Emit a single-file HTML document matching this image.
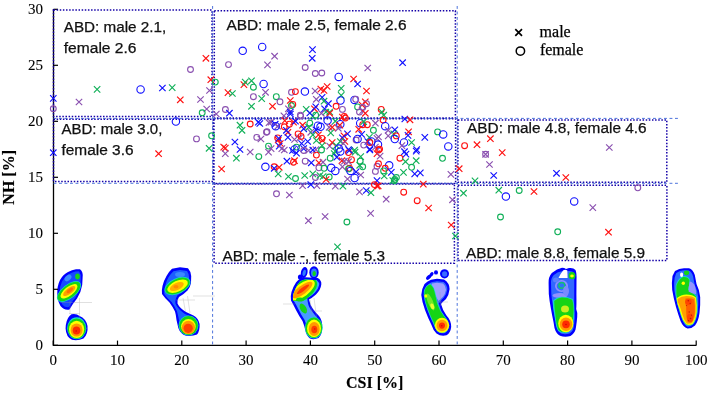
<!DOCTYPE html>
<html><head><meta charset="utf-8"><style>
html,body{margin:0;padding:0;background:#fff;}
svg{display:block;will-change:transform;}
.tk{font-family:"Liberation Serif",serif;font-size:15px;fill:#000;stroke:#000;stroke-width:0.1px;}
.ttl{font-family:"Liberation Serif",serif;font-size:16px;font-weight:bold;fill:#000;stroke:#000;stroke-width:0.15px;}
.lb{font-family:"Liberation Sans",sans-serif;font-size:14px;fill:#111;stroke:#111;stroke-width:0.25px;}
.lg{font-family:"Liberation Serif",serif;font-size:16px;fill:#000;stroke:#000;stroke-width:0.25px;}
</style></head><body>
<svg width="707" height="393" viewBox="0 0 707 393">
<defs><filter id="bl" x="-20%" y="-20%" width="140%" height="140%"><feGaussianBlur stdDeviation="0.55"/></filter></defs>
<g filter="url(#bl)">
<!-- foot 1 forefoot -->
<path fill="#0000ff" d="M76 269.3 L80 269.3 Q83.5 272 82.6 278 L82.2 285 Q81.2 292 77 298.5 Q72.5 304 69.5 309.5 Q64 310.5 60.5 306 Q57.5 301 57.3 294 Q57 286 60 280 Q63 274.5 68 272 Q72 270 76 269.3 Z"/>
<path fill="#1848ff" d="M75.5 271.5 L79 271.3 Q81.2 274 80.8 279 L80.4 285 Q79.5 291.5 75.5 297.5 Q71.5 302.5 68.8 307 Q64.8 307.8 62.3 304.5 Q59.6 300 59.5 294 Q59.3 287 62 281.5 Q64.8 276.3 69 274 Q72.5 272 75.5 271.5 Z"/>
<ellipse fill="#3a8cff" cx="68" cy="278" rx="4" ry="2.5" transform="rotate(-40 68 278)"/>
<ellipse fill="#16d8c8" cx="69" cy="291.5" rx="14.3" ry="7" transform="rotate(-38 69 291.5)"/>
<ellipse fill="#14d414" cx="69" cy="291.5" rx="13.6" ry="6.4" transform="rotate(-38 69 291.5)"/>
<ellipse fill="#ffff00" cx="69" cy="291.3" rx="10.2" ry="4.4" transform="rotate(-38 69 291.3)"/>
<ellipse fill="#ffa000" cx="69.2" cy="291" rx="7.4" ry="2.9" transform="rotate(-38 69.2 291)"/><ellipse fill="#ff7000" cx="69.8" cy="290.4" rx="3.8" ry="1.6" transform="rotate(-38 69.8 290.4)"/>
<ellipse fill="#14d414" cx="77.5" cy="276.5" rx="2.3" ry="3"/>
<!-- foot 1 heel -->
<path fill="#0000ff" d="M71.5 314.2 Q76.5 313.3 79.5 316 Q86 318.5 87.5 326 Q88.3 334 83.5 338.5 Q78 341 72 339.8 Q66 337 65.6 328.5 Q65.8 320 69.5 316 Z"/>
<ellipse fill="#16d8c8" cx="76.7" cy="328.2" rx="9.6" ry="11"/>
<ellipse fill="#14d414" cx="76.7" cy="328.6" rx="9" ry="10.2"/>
<ellipse fill="#ffff00" cx="76.6" cy="329.3" rx="7.6" ry="8.6"/>
<ellipse fill="#ff9a00" cx="76.6" cy="330" rx="6" ry="6.6"/>
<ellipse fill="#ff2a00" cx="76.5" cy="330.6" rx="3.8" ry="4"/>
<!-- foot 2 -->
<path fill="#0000ff" d="M172 268.8 L180 267.3 L188 268.2 Q191.3 272 191.2 276 L191 283 Q190 288 187.5 290.5 Q183 295 179 297 Q176.8 300 177.5 303.5 Q179.5 308 186 312 L193.5 315.4 Q198.5 318 199.6 324 Q200 331 197 334.5 Q193 336.3 186 335.8 Q180.5 334 178.3 328 L176.5 320 Q176 315 175 311.5 Q172.5 306.5 169.5 302.5 Q165 298.5 162 294 Q161.5 290 162.5 286 Q164 280 166.5 276 Q169 271.5 172 268.8 Z"/>
<path fill="#1f5fff" d="M173.5 271.3 L180 270 L187 271 Q189 274 189 277 L188.8 283 Q188 287 185.8 289 Q181.5 293 177.5 295.2 Q174.8 299 175.5 303.8 Q177.8 309 184.5 313.8 L191.5 317 Q197 320 197.5 325 Q197.5 330.5 195 333 Q191.5 334 186.5 333.5 Q182 332 180.5 327 L179 320 Q178 315 177 311.3 Q174.5 306 171.5 302 Q167 298 164.3 294 Q164 290 165 286.5 Q166.3 281 168.5 277.3 Q171 273.5 173.5 271.3 Z"/>
<ellipse fill="#16d8c8" cx="177.5" cy="286" rx="13.8" ry="7.8" transform="rotate(-25 177.5 286)"/>
<ellipse fill="#14d414" cx="177.5" cy="286" rx="13" ry="7" transform="rotate(-25 177.5 286)"/>
<ellipse fill="#ffff00" cx="177.6" cy="286.2" rx="11" ry="5.4" transform="rotate(-25 177.6 286.2)"/>
<ellipse fill="#ffb000" cx="176.8" cy="286.5" rx="7.5" ry="3.5" transform="rotate(-25 176.8 286.5)"/><ellipse fill="#ff8a00" cx="176" cy="286.8" rx="2.5" ry="1.8"/>
<ellipse fill="#3a8aff" cx="180" cy="274.5" rx="5" ry="2.5"/>
<ellipse fill="#16d8c8" cx="188.5" cy="325.5" rx="9.9" ry="10"/>
<ellipse fill="#14d414" cx="188.5" cy="325.6" rx="9.3" ry="9.5"/>
<ellipse fill="#ffff00" cx="188.4" cy="326.5" rx="7.3" ry="7.5"/>
<ellipse fill="#ff9a00" cx="188.4" cy="327.5" rx="6.6" ry="6.8"/>
<ellipse fill="#ff4000" cx="188.2" cy="328.3" rx="4.6" ry="4.6"/>
<!-- foot 3 -->
<ellipse fill="#0000ff" cx="304.2" cy="272.5" rx="3.3" ry="5.6" transform="rotate(12 304.2 272.5)"/>
<ellipse fill="#2f7bff" cx="304.2" cy="272.8" rx="1.6" ry="3.2" transform="rotate(12 304.2 272.8)"/>
<ellipse fill="#0000ff" cx="300.3" cy="277" rx="2.4" ry="2.6"/>
<ellipse fill="#0000ff" cx="314" cy="272.5" rx="4.7" ry="6.2"/>
<ellipse fill="#2f7bff" cx="314" cy="272.8" rx="3" ry="4.3"/>
<ellipse fill="#14d414" cx="314.2" cy="273.5" rx="1.7" ry="2.6"/>
<path fill="#0000ff" d="M299 279.5 Q303 277 305 277.2 L317.8 278 Q321.8 280.5 321.3 284.5 Q320.8 289.5 316 294.5 Q312 298 309 299.5 Q310 305 313 309 Q316 313 319 316 Q322.5 320 322.3 328 Q322 335 318.5 338 Q314 340 310 338.5 Q306.5 336 305.5 331 Q304.5 326 302.5 321 Q299 316 296.5 311 Q293.5 305 291 300.5 Q290.3 296 291.5 292 Q293.5 286 296 282.5 Q297.5 280.5 299 279.5 Z"/>
<path fill="#4a9aff" d="M300 281.5 Q303.5 279.5 305.5 279.5 L316.8 280.3 Q319.5 282.5 319.2 285 Q318.5 289 314.5 293 Q310.5 296.5 307.3 298 Q307.5 305 311 310 Q314 314 317 317.5 Q320.3 321 320.2 328 Q319.8 333.5 317 336 Q314 337.8 311 336.6 Q308.3 334.5 307.6 330 Q306.8 325 304.6 320 Q301.3 315 298.8 310 Q295.8 304 293.3 300 Q292.7 296 293.8 293 Q295.6 288 297.7 284.5 Z"/>
<clipPath id="f3c"><path d="M300 281.5 Q303.5 279.5 305.5 279.5 L316.8 280.3 Q319.5 282.5 319.2 285 Q318.5 289 314.5 293 Q310.5 296.5 307.3 298 L306 301 L293 301 Q292.7 296 293.8 293 Q295.6 288 297.7 284.5 Z"/></clipPath>
<g clip-path="url(#f3c)">
<ellipse fill="#16d8c8" cx="302.8" cy="290" rx="17" ry="10" transform="rotate(-37 302.8 290)"/>
<ellipse fill="#14d414" cx="302.8" cy="290" rx="16.3" ry="9.3" transform="rotate(-37 302.8 290)"/>
<ellipse fill="#ffff00" cx="302.5" cy="290" rx="14.5" ry="6.6" transform="rotate(-37 302.5 290)"/>
<ellipse fill="#ff9a00" cx="302.3" cy="290" rx="12.3" ry="4.3" transform="rotate(-37 302.3 290)"/>
<ellipse fill="#ff3800" cx="303" cy="289.3" rx="7.5" ry="1.8" transform="rotate(-37 303 289.3)"/>
</g>
<ellipse fill="#14d414" cx="300" cy="299.5" rx="4" ry="2"/>
<ellipse fill="#14d414" cx="303.3" cy="308.5" rx="3" ry="5.4" transform="rotate(-30 303.3 308.5)"/>
<ellipse fill="#16d8c8" cx="313.8" cy="327.8" rx="8.8" ry="10.8"/>
<ellipse fill="#14d414" cx="313.8" cy="327.8" rx="8.3" ry="10.3"/>
<ellipse fill="#ffff00" cx="314" cy="328.4" rx="7" ry="8.8"/>
<ellipse fill="#ff9a00" cx="314.2" cy="329" rx="5.5" ry="7"/>
<ellipse fill="#ff3a00" cx="314.3" cy="329.5" rx="3" ry="3.8"/>
<!-- foot 4 -->
<ellipse fill="#0000ff" cx="428.6" cy="277.3" rx="1.8" ry="3" transform="rotate(45 428.6 277.3)"/>
<ellipse fill="#0000ff" cx="431.5" cy="274.4" rx="1.6" ry="2.6" transform="rotate(40 431.5 274.4)"/>
<ellipse fill="#0000ff" cx="436" cy="272.4" rx="2" ry="2.2"/>
<ellipse fill="#0000ff" cx="444.5" cy="273.8" rx="4.5" ry="4.6"/>
<ellipse fill="#3a6cff" cx="444.6" cy="274" rx="2.6" ry="2.8"/>
<path fill="#0000ff" d="M431 279.8 L437 278.8 L444 279.6 Q449.5 283 449.6 289 Q449 295 446 299 Q442.5 302 441 304 Q442.5 310 446.5 315.5 Q451.3 320.5 451.2 327 Q450.5 333 446.5 335.3 Q441 336.8 436.5 333.5 Q433 330 431.5 325 Q428 318 425 310 Q422 302 421.3 295 Q421.5 289 424.5 284 Q427.5 281 431 279.8 Z"/>
<path fill="#3a6cff" d="M431.5 282.3 L437 281.3 L443.5 282 Q447.3 285 447.3 289.5 Q446.5 294.5 443.8 297.5 Q440.5 300.5 438.8 303.5 Q440.5 311 444.5 316.5 Q449 321.5 448.8 327 Q448 331.5 445 333 Q441 334.2 437.5 331.5 Q434.8 328.5 433.5 324 Q430 317 427.3 309.5 Q424.5 301.5 423.8 295 Q424 290 426.5 286 Q429 283.5 431.5 282.3 Z"/>
<path fill="#a0a0ff" d="M432 283.5 L437 282.8 L443 283.5 Q446 286 446 289.8 Q445.3 294 443 296.8 Q440.3 299.3 438.5 301 L435.5 296 L431 289 Z"/>
<path fill="#16d8c8" d="M423.8 291.5 Q425.5 285 430.5 283.8 Q434 286.5 435.2 292 Q436.7 298 438 304 Q440.2 311 444.7 316.3 Q449 321 448.5 327 Q447.7 331.5 444.3 332.7 Q440 333.7 437 331 Q434.5 327.5 433.3 323.3 Q429.8 316 427.3 309 Q424.3 301 423.8 295 Z"/>
<path fill="#14d414" d="M424.5 291.5 Q426 285.5 430.5 284.5 Q433.5 287 434.5 292 Q436 298 437.3 304 Q439.5 311 444 316.5 Q448.2 321 447.8 327 Q447 331 444 332 Q440 333 437.5 330.5 Q435 327 434 323 Q430.5 316 428 309 Q425 301 424.5 295 Z"/>

<ellipse fill="#6fe828" cx="430.5" cy="302" rx="2.6" ry="9" transform="rotate(-22 430.5 302)"/><ellipse fill="#ffff00" cx="425.8" cy="296" rx="1.5" ry="1.7"/><ellipse fill="#e8ff30" cx="432.3" cy="306.4" rx="1.8" ry="3" transform="rotate(-20 432.3 306.4)"/><ellipse fill="#ffff00" cx="442" cy="325.3" rx="7.2" ry="7.5"/>
<ellipse fill="#ff9a00" cx="442" cy="325.5" rx="5.5" ry="5.8"/>
<ellipse fill="#ff2a00" cx="442" cy="325.6" rx="3" ry="3.1"/>
<!-- foot 5 -->
<path fill="#0000ff" d="M548.6 283 Q548.3 277 551.8 273 L557 269.5 L562 267.8 Q564.5 267.8 566 269 L569 268 Q573.5 267.5 575.5 270 Q576.8 273 576.5 280 L576.4 295 Q576.6 305 576.2 309 Q577.6 312 577.2 317 Q576.8 322 576 327 Q575.5 333 570.5 336 Q565 337.5 560 335.8 Q556 333.5 554.5 328 L553.5 322 Q552 315 550.8 308 Q549.3 300 548.8 294 Z"/>
<path fill="#3068ff" d="M551 283 Q550.8 278 553.8 275 L558 272.3 L563 271 Q566 271.5 568 271 Q572.5 270.5 573.8 272.5 Q574.5 276 574.3 281 L574.2 295 Q574.4 305 574 310 Q575 313 574.8 317 Q574.5 322 573.8 327 Q573 331.5 569.5 333.5 Q565 335 561 333.5 Q557.8 331.5 556.8 327 L555.8 321 Q554.3 314 553.2 307.5 Q551.8 300 551.3 294 Z"/>
<ellipse fill="#9090ff" cx="561.5" cy="286" rx="6.5" ry="6"/>
<ellipse fill="#2f6fff" cx="561.5" cy="286" rx="4.8" ry="4.4"/>
<ellipse fill="none" stroke="#14c864" stroke-width="1.3" cx="561.8" cy="285.4" rx="3" ry="2.8"/>
<ellipse fill="#9090ff" cx="560" cy="295.5" rx="7.5" ry="2.4"/><ellipse fill="#5a80ff" cx="556" cy="280" rx="3" ry="2.5"/>
<ellipse fill="#7a8aff" cx="566" cy="291" rx="3" ry="5"/>
<ellipse fill="#14d414" cx="572" cy="275.7" rx="3.4" ry="3.6"/>
<ellipse fill="#ffff00" cx="572" cy="276" rx="1.8" ry="1.4"/>
<path fill="#16d8c8" d="M553 300.5 Q557 297 562 296.8 Q568 296.8 572.8 299 Q574.6 304 574.4 310 Q574.2 318 572.9 325 Q571.3 331.5 566.5 333 Q561.3 333.5 558.2 331 Q556 327.5 555.3 321 Q554 313 553 307 Z"/>
<path fill="#14d414" d="M554.2 301 Q557.5 297.8 562 297.6 Q568 297.6 572.2 299.7 Q573.8 304 573.6 310 Q573.4 318 572.1 325 Q570.6 330.8 566.3 332.2 Q561.5 332.7 558.7 330.3 Q556.8 327 556.2 321 Q555.2 313 554.5 307 Z"/>
<ellipse fill="#c8f020" cx="565" cy="309" rx="4" ry="3.5"/><ellipse fill="#ffff00" cx="565.8" cy="323.5" rx="7.6" ry="8.8"/>
<ellipse fill="#ff9a00" cx="566" cy="324.3" rx="6.2" ry="6.8"/>
<ellipse fill="#ff2a00" cx="566" cy="324.3" rx="3.8" ry="3.9"/>
<!-- foot 6 -->
<path fill="#0000ff" d="M675 271 Q679 268.5 684 268.2 L689 268.3 Q693 269.5 694.8 275 L696.5 284 Q699.5 290 700.2 297 Q700.5 305 699.5 313 Q698.5 321 695 325.5 Q691.5 328.8 687.5 328.6 Q683 327 680.5 321 Q678 314 676 307 Q673.5 298 672.2 290 Q671.5 282 672.5 276 Z"/>
<path fill="#2f6fff" d="M676.3 273 Q680 270.5 684 270.3 L688.7 270.5 Q691.8 271.8 693.1 276.5 L694.7 284.8 Q697.6 290.8 698.3 297.3 Q698.6 305 697.6 312.7 Q696.6 319.9 693.5 324 Q690.8 326.8 687.8 326.7 Q684.2 325.2 682.2 319.8 Q679.9 313 677.9 306 Q675.5 297.5 674.3 290 Q673.7 283 674.7 277.5 Z"/>
<path fill="#16d8c8" d="M675.6 286 Q677.5 278.5 683 276 Q688.5 275.5 690.2 280 Q690.5 285 689 289.5 Q693.5 292.5 696.6 296 Q698 304 697.4 312 Q696.2 320.5 692.9 324.6 Q689.4 326.3 686.3 325.3 Q682.8 322 681 316 Q678.5 308.5 676.7 301 Q675 293.5 675.6 286 Z"/>
<path fill="#14d414" d="M676.4 286 Q678.3 279.3 683.2 277 Q688 276.6 689.4 280.3 Q689.7 285 688.1 289.8 Q692.8 292.8 695.8 296.2 Q697.2 304 696.6 312 Q695.4 320 692.3 323.9 Q689.2 325.4 686.5 324.5 Q683.5 321.5 681.8 315.7 Q679.3 308.3 677.5 301 Q675.8 293.8 676.4 286 Z"/>
<path fill="#9494ff" d="M689.8 281.5 Q693.3 282 694.9 286 Q696.4 290.5 696.1 294.2 Q691.8 293.8 688.6 291.6 Q688.2 287 689.8 281.5 Z"/>
<ellipse fill="#14d414" cx="686.5" cy="272.8" rx="2.6" ry="2.4"/>
<ellipse fill="#ffff00" cx="683.3" cy="283.3" rx="1.7" ry="1.7"/>
<path fill="#ffff00" d="M676.6 298.3 Q680.8 294.8 686.5 294.5 Q692.8 294.6 695.9 297.4 Q697.2 305 696.7 312 Q695.8 320 692.6 324 Q689.2 325.7 686.1 324.3 Q682.6 320.8 681.2 315 Q679.6 309 677.6 304.3 Z"/>
<path fill="#ffa000" d="M677.6 299 Q681.6 296.2 686.5 296 Q692.2 296.1 695 298.3 Q696.1 305 695.7 312 Q695 319.2 692 323 Q689 324.5 686.6 323.2 Q683.6 319.8 682.4 314.5 Q681 309 679.2 305 Q677.4 302 677.6 299 Z"/>
<path fill="#ff6000" d="M685.5 298.5 Q690.5 297.5 694.2 299.5 Q695.2 306 694.8 312.5 Q694.2 318.8 691.5 322 Q689 323.2 687.6 321.8 Q686 318 686.2 312 Q686.5 306 685 302 Z"/>
<ellipse fill="#ff4400" cx="688.5" cy="302" rx="3.2" ry="3"/>
<ellipse fill="#ff4400" cx="690" cy="318" rx="3" ry="4.2"/>
<ellipse fill="#ffffff" cx="681.6" cy="274.8" rx="1.6" ry="2.2"/>
</g>
<g stroke="#999" stroke-width="0.5" fill="none" opacity="0.6">
<path d="M70 301V314M79.5 298V318M60 302.5H92M69 313.5H80"/>
<path d="M183 298L185.5 312M187.5 296L190 313M176 300H195M193 296H215"/>
<path d="M310 300L312 314M314 298L316.5 317M305 311H322M283 304H295"/>
<path d="M440 292L441 306M436 302H448"/>
</g>
<g fill="#b00000" opacity="0.7">
<circle cx="688.3" cy="300.8" r="0.8"/><circle cx="690.2" cy="303.5" r="0.7"/><circle cx="686.6" cy="305.5" r="0.6"/>
<circle cx="689.2" cy="312" r="0.7"/><circle cx="690.5" cy="318.5" r="0.8"/><circle cx="688.6" cy="320.6" r="0.7"/><circle cx="691.5" cy="315.2" r="0.6"/>
<circle cx="76.2" cy="331" r="0.8"/><circle cx="314.8" cy="329" r="0.7"/><circle cx="441.8" cy="325.8" r="0.8"/><circle cx="566" cy="324.5" r="0.8"/>
</g>
<!-- foot 5 white notch -->
<path fill="#ffffff" d="M558.5 278 L567.6 278 L567.3 270.6 Q565.5 269 563.3 270.3 Q560.3 274 558.5 278 Z" filter="url(#bl)"/>

<path d="M53.5 9 V345.4 H696.3" fill="none" stroke="#000" stroke-width="1.3"/>
<path d="M53.5 345.3H58" stroke="#000" stroke-width="1.2"/>
<text x="43" y="350.3" text-anchor="end" class="tk">0</text>
<path d="M53.5 289.3H58" stroke="#000" stroke-width="1.2"/>
<text x="43" y="294.3" text-anchor="end" class="tk">5</text>
<path d="M53.5 233.3H58" stroke="#000" stroke-width="1.2"/>
<text x="43" y="238.3" text-anchor="end" class="tk">10</text>
<path d="M53.5 177.3H58" stroke="#000" stroke-width="1.2"/>
<text x="43" y="182.3" text-anchor="end" class="tk">15</text>
<path d="M53.5 121.3H58" stroke="#000" stroke-width="1.2"/>
<text x="43" y="126.3" text-anchor="end" class="tk">20</text>
<path d="M53.5 65.3H58" stroke="#000" stroke-width="1.2"/>
<text x="43" y="70.3" text-anchor="end" class="tk">25</text>
<path d="M53.5 9.3H58" stroke="#000" stroke-width="1.2"/>
<text x="43" y="14.3" text-anchor="end" class="tk">30</text>
<path d="M53.2 345.4V340.6" stroke="#000" stroke-width="1.2"/>
<text x="53.2" y="364.8" text-anchor="middle" class="tk">0</text>
<path d="M117.5 345.4V340.6" stroke="#000" stroke-width="1.2"/>
<text x="117.5" y="364.8" text-anchor="middle" class="tk">10</text>
<path d="M181.8 345.4V340.6" stroke="#000" stroke-width="1.2"/>
<text x="181.8" y="364.8" text-anchor="middle" class="tk">20</text>
<path d="M246.1 345.4V340.6" stroke="#000" stroke-width="1.2"/>
<text x="246.1" y="364.8" text-anchor="middle" class="tk">30</text>
<path d="M310.4 345.4V340.6" stroke="#000" stroke-width="1.2"/>
<text x="310.4" y="364.8" text-anchor="middle" class="tk">40</text>
<path d="M374.7 345.4V340.6" stroke="#000" stroke-width="1.2"/>
<text x="374.7" y="364.8" text-anchor="middle" class="tk">50</text>
<path d="M439.0 345.4V340.6" stroke="#000" stroke-width="1.2"/>
<text x="439.0" y="364.8" text-anchor="middle" class="tk">60</text>
<path d="M503.3 345.4V340.6" stroke="#000" stroke-width="1.2"/>
<text x="503.3" y="364.8" text-anchor="middle" class="tk">70</text>
<path d="M567.6 345.4V340.6" stroke="#000" stroke-width="1.2"/>
<text x="567.6" y="364.8" text-anchor="middle" class="tk">80</text>
<path d="M631.9 345.4V340.6" stroke="#000" stroke-width="1.2"/>
<text x="631.9" y="364.8" text-anchor="middle" class="tk">90</text>
<path d="M696.2 345.4V340.6" stroke="#000" stroke-width="1.2"/>
<text x="696.2" y="364.8" text-anchor="middle" class="tk">100</text>
<text transform="translate(14.3 177.3) rotate(-90)" text-anchor="middle" class="ttl">NH [%]</text>
<text x="374.7" y="388.2" text-anchor="middle" class="ttl">CSI [%]</text>
<rect x="53.5" y="10.1" width="158.5" height="106.5" stroke="#1400a8" stroke-width="1.5" stroke-dasharray="1.5 1.63" fill="none"/>
<rect x="214.3" y="10.8" width="241.1" height="107.2" stroke="#1400a8" stroke-width="1.5" stroke-dasharray="1.5 1.63" fill="none"/>
<rect x="53.5" y="119.2" width="159.7" height="62.3" stroke="#1400a8" stroke-width="1.5" stroke-dasharray="1.5 1.63" fill="none"/>
<rect x="214" y="118.8" width="241.6" height="64.6" stroke="#1400a8" stroke-width="1.5" stroke-dasharray="1.5 1.63" fill="none"/>
<rect x="457.9" y="120" width="208.9" height="62.3" stroke="#1400a8" stroke-width="1.5" stroke-dasharray="1.5 1.63" fill="none"/>
<rect x="214.1" y="184" width="240.3" height="79.2" stroke="#1400a8" stroke-width="1.5" stroke-dasharray="1.5 1.63" fill="none"/>
<rect x="458" y="185.3" width="208.9" height="75.3" stroke="#1400a8" stroke-width="1.5" stroke-dasharray="1.5 1.63" fill="none"/>
<path d="M212.6 6V345" stroke="#3a64d8" stroke-width="0.9" stroke-dasharray="2.9 2.6" fill="none"/>
<path d="M457.2 6V345" stroke="#3a64d8" stroke-width="0.9" stroke-dasharray="2.9 2.6" fill="none"/>
<path d="M53.5 118.4H678" stroke="#3a64d8" stroke-width="0.9" stroke-dasharray="2.9 2.6" fill="none"/>
<path d="M53.5 183.3H678" stroke="#3a64d8" stroke-width="0.9" stroke-dasharray="2.9 2.6" fill="none"/>
<g fill="none" stroke-width="1.15">
<path d="M50.1 95.2L56.5 101.6M50.1 101.6L56.5 95.2" stroke="#1010ff"/>
<circle cx="53.3" cy="108.8" r="2.9" stroke="#8a50b0" stroke-width="1.1"/>
<path d="M75.8 98.8L82.2 105.2M75.8 105.2L82.2 98.8" stroke="#8a50b0"/>
<path d="M93.9 86.2L100.3 92.6M93.9 92.6L100.3 86.2" stroke="#10b058"/>
<circle cx="140.6" cy="89.4" r="3.7" stroke="#1010ff" stroke-width="1.1"/>
<path d="M159.2 84.8L165.6 91.2M159.2 91.2L165.6 84.8" stroke="#1010ff"/>
<path d="M169.0 84.4L175.4 90.8M169.0 90.8L175.4 84.4" stroke="#10b058"/>
<path d="M177.1 96.6L183.5 103.0M177.1 103.0L183.5 96.6" stroke="#ff1010"/>
<circle cx="190.5" cy="69.5" r="2.9" stroke="#8a50b0" stroke-width="1.1"/>
<path d="M202.7 55.1L209.1 61.5M202.7 61.5L209.1 55.1" stroke="#ff1010"/>
<path d="M207.6 76.5L214.0 82.9M207.6 82.9L214.0 76.5" stroke="#ff1010"/>
<path d="M197.3 96.3L203.7 102.7M197.3 102.7L203.7 96.3" stroke="#8a50b0"/>
<path d="M206.3 87.3L212.7 93.7M206.3 93.7L212.7 87.3" stroke="#8a50b0"/>
<path d="M203.5 105.8L209.9 112.2M203.5 112.2L209.9 105.8" stroke="#8a50b0"/>
<circle cx="202.2" cy="112.8" r="2.9" stroke="#10b058" stroke-width="1.1"/>
<circle cx="215.3" cy="82.1" r="2.9" stroke="#10b058" stroke-width="1.1"/>
<path d="M213.1 110.8L219.5 117.2M213.1 117.2L219.5 110.8" stroke="#8a50b0"/>
<circle cx="228.5" cy="64.6" r="2.9" stroke="#8a50b0" stroke-width="1.1"/>
<path d="M224.8 89.4L231.2 95.8M224.8 95.8L231.2 89.4" stroke="#ff1010"/>
<path d="M229.2 90.3L235.6 96.7M229.2 96.7L235.6 90.3" stroke="#10b058"/>
<circle cx="225.4" cy="109.5" r="2.9" stroke="#8a50b0" stroke-width="1.1"/>
<path d="M226.2 110.0L232.6 116.4M226.2 116.4L232.6 110.0" stroke="#1010ff"/>
<circle cx="175.9" cy="121.5" r="3.7" stroke="#1010ff" stroke-width="1.1"/>
<circle cx="196.5" cy="138.9" r="2.9" stroke="#8a50b0" stroke-width="1.1"/>
<circle cx="211.6" cy="135.8" r="2.9" stroke="#10b058" stroke-width="1.1"/>
<path d="M205.9 145.1L212.3 151.5M205.9 151.5L212.3 145.1" stroke="#10b058"/>
<path d="M155.4 150.5L161.8 156.9M155.4 156.9L161.8 150.5" stroke="#ff1010"/>
<path d="M50.1 149.5L56.5 155.9M50.1 155.9L56.5 149.5" stroke="#1010ff"/>
<circle cx="242.7" cy="50.8" r="3.7" stroke="#1010ff" stroke-width="1.1"/>
<circle cx="262.2" cy="47.0" r="3.7" stroke="#1010ff" stroke-width="1.1"/>
<path d="M271.4 53.0L277.8 59.4M271.4 59.4L277.8 53.0" stroke="#8a50b0"/>
<path d="M264.3 61.7L270.7 68.1M264.3 68.1L270.7 61.7" stroke="#8a50b0"/>
<path d="M309.3 46.4L315.7 52.8M309.3 52.8L315.7 46.4" stroke="#1010ff"/>
<path d="M309.0 55.1L315.4 61.5M309.0 61.5L315.4 55.1" stroke="#1010ff"/>
<circle cx="305.2" cy="67.5" r="2.9" stroke="#8a50b0" stroke-width="1.1"/>
<circle cx="315.3" cy="73.5" r="2.9" stroke="#8a50b0" stroke-width="1.1"/>
<circle cx="321.8" cy="73.0" r="2.9" stroke="#8a50b0" stroke-width="1.1"/>
<path d="M364.5 64.8L370.9 71.2M364.5 71.2L370.9 64.8" stroke="#8a50b0"/>
<path d="M399.4 59.5L405.8 65.9M399.4 65.9L405.8 59.5" stroke="#1010ff"/>
<circle cx="338.7" cy="76.9" r="3.7" stroke="#1010ff" stroke-width="1.1"/>
<path d="M350.4 75.8L356.8 82.2M350.4 82.2L356.8 75.8" stroke="#ff1010"/>
<path d="M354.4 80.8L360.8 87.2M354.4 87.2L360.8 80.8" stroke="#1010ff"/>
<path d="M363.3 87.8L369.7 94.2M363.3 94.2L369.7 87.8" stroke="#ff1010"/>
<path d="M240.7 81.4L247.1 87.8M240.7 87.8L247.1 81.4" stroke="#ff1010"/>
<path d="M242.0 78.9L248.4 85.3M242.0 85.3L248.4 78.9" stroke="#10b058"/>
<path d="M248.3 77.6L254.7 84.0M248.3 84.0L254.7 77.6" stroke="#10b058"/>
<circle cx="253.4" cy="87.2" r="2.9" stroke="#10b058" stroke-width="1.1"/>
<circle cx="263.6" cy="84.0" r="3.7" stroke="#1010ff" stroke-width="1.1"/>
<path d="M262.3 89.1L268.7 95.5M262.3 95.5L268.7 89.1" stroke="#8a50b0"/>
<circle cx="253.4" cy="96.7" r="2.9" stroke="#8a50b0" stroke-width="1.1"/>
<path d="M258.5 95.4L264.9 101.8M258.5 101.8L264.9 95.4" stroke="#10b058"/>
<path d="M248.3 103.1L254.7 109.5M248.3 109.5L254.7 103.1" stroke="#10b058"/>
<circle cx="276.3" cy="96.7" r="2.9" stroke="#10b058" stroke-width="1.1"/>
<circle cx="280.0" cy="101.8" r="2.9" stroke="#8a50b0" stroke-width="1.1"/>
<path d="M269.3 103.1L275.7 109.5M269.3 109.5L275.7 103.1" stroke="#ff1010"/>
<circle cx="291.5" cy="92.3" r="2.9" stroke="#8a50b0" stroke-width="1.1"/>
<circle cx="295.4" cy="91.6" r="2.9" stroke="#ff1010" stroke-width="1.1"/>
<circle cx="304.9" cy="91.6" r="3.7" stroke="#1010ff" stroke-width="1.1"/>
<path d="M311.9 87.8L318.3 94.2M311.9 94.2L318.3 87.8" stroke="#8a50b0"/>
<path d="M317.6 85.9L324.0 92.3M317.6 92.3L324.0 85.9" stroke="#ff1010"/>
<path d="M320.8 87.2L327.2 93.6M320.8 93.6L327.2 87.2" stroke="#ff1010"/>
<path d="M324.0 83.3L330.4 89.7M324.0 89.7L330.4 83.3" stroke="#ff1010"/>
<path d="M338.0 85.2L344.4 91.6M338.0 91.6L344.4 85.2" stroke="#10b058"/>
<path d="M338.0 92.2L344.4 98.6M338.0 98.6L344.4 92.2" stroke="#10b058"/>
<circle cx="340.5" cy="100.5" r="3.7" stroke="#1010ff" stroke-width="1.1"/>
<path d="M287.1 97.3L293.5 103.7M287.1 103.7L293.5 97.3" stroke="#ff1010"/>
<circle cx="292.8" cy="104.4" r="2.9" stroke="#ff1010" stroke-width="1.1"/>
<circle cx="291.5" cy="105.6" r="2.9" stroke="#10b058" stroke-width="1.1"/>
<path d="M285.2 105.6L291.6 112.0M285.2 112.0L291.6 105.6" stroke="#8a50b0"/>
<path d="M287.1 108.8L293.5 115.2M287.1 115.2L293.5 108.8" stroke="#1010ff"/>
<path d="M313.1 96.1L319.5 102.5M313.1 102.5L319.5 96.1" stroke="#8a50b0"/>
<path d="M318.9 94.2L325.3 100.6M318.9 100.6L325.3 94.2" stroke="#1010ff"/>
<path d="M320.8 98.0L327.2 104.4M320.8 104.4L327.2 98.0" stroke="#10b058"/>
<path d="M325.2 100.5L331.6 106.9M325.2 106.9L331.6 100.5" stroke="#1010ff"/>
<circle cx="336.1" cy="106.3" r="2.9" stroke="#ff1010" stroke-width="1.1"/>
<circle cx="342.4" cy="109.4" r="2.9" stroke="#8a50b0" stroke-width="1.1"/>
<path d="M303.0 106.2L309.4 112.6M303.0 112.6L309.4 106.2" stroke="#10b058"/>
<path d="M311.2 105.6L317.6 112.0M311.2 112.0L317.6 105.6" stroke="#ff1010"/>
<path d="M312.5 103.7L318.9 110.1M312.5 110.1L318.9 103.7" stroke="#1010ff"/>
<circle cx="300.4" cy="115.2" r="2.9" stroke="#8a50b0" stroke-width="1.1"/>
<path d="M280.7 112.6L287.1 119.0M280.7 119.0L287.1 112.6" stroke="#8a50b0"/>
<path d="M321.4 105.6L327.8 112.0M321.4 112.0L327.8 105.6" stroke="#1010ff"/>
<path d="M322.7 108.8L329.1 115.2M322.7 115.2L329.1 108.8" stroke="#10b058"/>
<path d="M326.5 108.8L332.9 115.2M326.5 115.2L332.9 108.8" stroke="#10b058"/>
<path d="M326.5 110.1L332.9 116.5M326.5 116.5L332.9 110.1" stroke="#ff1010"/>
<path d="M318.2 110.1L324.6 116.5M318.2 116.5L324.6 110.1" stroke="#8a50b0"/>
<circle cx="315.7" cy="115.2" r="2.9" stroke="#10b058" stroke-width="1.1"/>
<circle cx="344.3" cy="116.4" r="2.9" stroke="#ff1010" stroke-width="1.1"/>
<path d="M339.2 113.9L345.6 120.3M339.2 120.3L345.6 113.9" stroke="#ff1010"/>
<circle cx="354.5" cy="99.9" r="3.7" stroke="#1010ff" stroke-width="1.1"/>
<circle cx="355.7" cy="99.3" r="2.9" stroke="#8a50b0" stroke-width="1.1"/>
<path d="M362.1 98.6L368.5 105.0M362.1 105.0L368.5 98.6" stroke="#ff1010"/>
<circle cx="366.5" cy="103.7" r="2.9" stroke="#8a50b0" stroke-width="1.1"/>
<path d="M358.9 101.8L365.3 108.2M358.9 108.2L365.3 101.8" stroke="#ff1010"/>
<circle cx="357.6" cy="106.9" r="2.9" stroke="#10b058" stroke-width="1.1"/>
<circle cx="362.7" cy="107.5" r="2.9" stroke="#8a50b0" stroke-width="1.1"/>
<path d="M359.5 107.5L365.9 113.9M359.5 113.9L365.9 107.5" stroke="#8a50b0"/>
<circle cx="359.5" cy="112.0" r="2.9" stroke="#8a50b0" stroke-width="1.1"/>
<path d="M362.1 110.1L368.5 116.5M362.1 116.5L368.5 110.1" stroke="#ff1010"/>
<circle cx="381.2" cy="109.4" r="2.9" stroke="#ff1010" stroke-width="1.1"/>
<path d="M378.6 108.8L385.0 115.2M378.6 115.2L385.0 108.8" stroke="#10b058"/>
<path d="M380.5 112.0L386.9 118.4M380.5 118.4L386.9 112.0" stroke="#10b058"/>
<path d="M401.6 115.8L408.0 122.2M401.6 122.2L408.0 115.8" stroke="#1010ff"/>
<path d="M406.8 116.6L413.2 123.0M406.8 123.0L413.2 116.6" stroke="#ff1010"/>
<path d="M236.8 122.0L243.2 128.4M236.8 128.4L243.2 122.0" stroke="#10b058"/>
<path d="M238.8 127.1L245.2 133.5M238.8 133.5L245.2 127.1" stroke="#10b058"/>
<circle cx="250.2" cy="124.0" r="2.9" stroke="#ff1010" stroke-width="1.1"/>
<path d="M255.1 119.0L261.5 125.4M255.1 125.4L261.5 119.0" stroke="#1010ff"/>
<path d="M256.6 120.3L263.0 126.7M256.6 126.7L263.0 120.3" stroke="#1010ff"/>
<path d="M265.8 119.5L272.2 125.9M265.8 125.9L272.2 119.5" stroke="#8a50b0"/>
<circle cx="256.8" cy="137.4" r="2.9" stroke="#8a50b0" stroke-width="1.1"/>
<path d="M257.7 135.8L264.1 142.2M257.7 142.2L264.1 135.8" stroke="#8a50b0"/>
<circle cx="266.5" cy="132.3" r="2.9" stroke="#8a50b0" stroke-width="1.1"/>
<path d="M231.7 138.8L238.1 145.2M231.7 145.2L238.1 138.8" stroke="#1010ff"/>
<path d="M220.5 143.9L226.9 150.3M220.5 150.3L226.9 143.9" stroke="#ff1010"/>
<path d="M222.1 144.9L228.5 151.3M222.1 151.3L228.5 144.9" stroke="#ff1010"/>
<path d="M236.8 146.3L243.2 152.7M236.8 152.7L243.2 146.3" stroke="#1010ff"/>
<circle cx="268.5" cy="146.1" r="2.9" stroke="#10b058" stroke-width="1.1"/>
<path d="M247.0 148.8L253.4 155.2M247.0 155.2L253.4 148.8" stroke="#8a50b0"/>
<path d="M222.1 150.4L228.5 156.8M222.1 156.8L228.5 150.4" stroke="#8a50b0"/>
<path d="M233.2 155.0L239.6 161.4M233.2 161.4L239.6 155.0" stroke="#10b058"/>
<circle cx="258.8" cy="156.6" r="2.9" stroke="#10b058" stroke-width="1.1"/>
<circle cx="265.4" cy="166.8" r="3.7" stroke="#1010ff" stroke-width="1.1"/>
<path d="M218.4 165.8L224.8 172.2M218.4 172.2L224.8 165.8" stroke="#ff1010"/>
<path d="M265.3 148.9L271.7 155.3M265.3 155.3L271.7 148.9" stroke="#8a50b0"/>
<path d="M267.9 119.0L274.3 125.4M267.9 125.4L274.3 119.0" stroke="#8a50b0"/>
<path d="M272.0 121.0L278.4 127.4M272.0 127.4L278.4 121.0" stroke="#1010ff"/>
<path d="M274.5 123.0L280.9 129.4M274.5 129.4L280.9 123.0" stroke="#8a50b0"/>
<circle cx="275.7" cy="126.2" r="3.7" stroke="#1010ff" stroke-width="1.1"/>
<circle cx="284.3" cy="126.8" r="2.9" stroke="#ff1010" stroke-width="1.1"/>
<circle cx="289.4" cy="124.2" r="2.9" stroke="#ff1010" stroke-width="1.1"/>
<path d="M281.6 117.4L288.0 123.8M281.6 123.8L288.0 117.4" stroke="#ff1010"/>
<path d="M287.2 110.8L293.6 117.2M287.2 117.2L293.6 110.8" stroke="#1010ff"/>
<path d="M290.3 119.0L296.7 125.4M290.3 125.4L296.7 119.0" stroke="#ff1010"/>
<path d="M292.3 118.0L298.7 124.4M292.3 124.4L298.7 118.0" stroke="#1010ff"/>
<circle cx="300.6" cy="116.1" r="2.9" stroke="#8a50b0" stroke-width="1.1"/>
<path d="M309.6 112.9L316.0 119.3M309.6 119.3L316.0 112.9" stroke="#10b058"/>
<path d="M306.6 109.8L313.0 116.2M306.6 116.2L313.0 109.8" stroke="#1010ff"/>
<circle cx="267.0" cy="131.8" r="2.9" stroke="#8a50b0" stroke-width="1.1"/>
<path d="M299.4 122.0L305.8 128.4M299.4 128.4L305.8 122.0" stroke="#ff1010"/>
<circle cx="309.8" cy="123.2" r="2.9" stroke="#10b058" stroke-width="1.1"/>
<circle cx="317.9" cy="125.7" r="3.7" stroke="#1010ff" stroke-width="1.1"/>
<path d="M300.5 125.6L306.9 132.0M300.5 132.0L306.9 125.6" stroke="#1010ff"/>
<path d="M284.7 129.1L291.1 135.5M284.7 135.5L291.1 129.1" stroke="#ff1010"/>
<path d="M283.2 127.1L289.6 133.5M283.2 133.5L289.6 127.1" stroke="#1010ff"/>
<circle cx="298.1" cy="133.9" r="2.9" stroke="#ff1010" stroke-width="1.1"/>
<path d="M305.5 124.1L311.9 130.5M305.5 130.5L311.9 124.1" stroke="#10b058"/>
<path d="M307.6 129.1L314.0 135.5M307.6 135.5L314.0 129.1" stroke="#8a50b0"/>
<path d="M312.7 126.6L319.1 133.0M312.7 133.0L319.1 126.6" stroke="#1010ff"/>
<path d="M309.6 131.7L316.0 138.1M309.6 138.1L316.0 131.7" stroke="#10b058"/>
<path d="M315.2 131.7L321.6 138.1M315.2 138.1L321.6 131.7" stroke="#ff1010"/>
<path d="M275.0 136.8L281.4 143.2M275.0 143.2L281.4 136.8" stroke="#ff1010"/>
<circle cx="277.7" cy="137.9" r="2.9" stroke="#ff1010" stroke-width="1.1"/>
<path d="M275.5 135.2L281.9 141.6M275.5 141.6L281.9 135.2" stroke="#1010ff"/>
<path d="M277.1 140.3L283.5 146.7M277.1 146.7L283.5 140.3" stroke="#ff1010"/>
<path d="M276.0 142.9L282.4 149.3M276.0 149.3L282.4 142.9" stroke="#1010ff"/>
<path d="M284.7 134.2L291.1 140.6M284.7 140.6L291.1 134.2" stroke="#1010ff"/>
<path d="M291.3 136.3L297.7 142.7M291.3 142.7L297.7 136.3" stroke="#8a50b0"/>
<path d="M296.4 134.7L302.8 141.1M296.4 141.1L302.8 134.7" stroke="#8a50b0"/>
<circle cx="301.1" cy="136.4" r="2.9" stroke="#ff1010" stroke-width="1.1"/>
<path d="M298.4 140.3L304.8 146.7M298.4 146.7L304.8 140.3" stroke="#1010ff"/>
<path d="M304.5 138.3L310.9 144.7M304.5 144.7L310.9 138.3" stroke="#1010ff"/>
<path d="M313.2 137.3L319.6 143.7M313.2 143.7L319.6 137.3" stroke="#10b058"/>
<path d="M319.3 137.3L325.7 143.7M319.3 143.7L325.7 137.3" stroke="#ff1010"/>
<path d="M318.8 142.4L325.2 148.8M318.8 148.8L325.2 142.4" stroke="#10b058"/>
<path d="M267.9 145.4L274.3 151.8M267.9 151.8L274.3 145.4" stroke="#8a50b0"/>
<path d="M278.6 145.4L285.0 151.8M278.6 151.8L285.0 145.4" stroke="#8a50b0"/>
<circle cx="296.5" cy="147.1" r="2.9" stroke="#10b058" stroke-width="1.1"/>
<path d="M300.5 145.4L306.9 151.8M300.5 151.8L306.9 145.4" stroke="#1010ff"/>
<path d="M312.7 146.4L319.1 152.8M312.7 152.8L319.1 146.4" stroke="#8a50b0"/>
<circle cx="327.6" cy="120.6" r="3.7" stroke="#1010ff" stroke-width="1.1"/>
<circle cx="345.4" cy="118.1" r="2.9" stroke="#ff1010" stroke-width="1.1"/>
<path d="M332.1 118.0L338.5 124.4M332.1 124.4L338.5 118.0" stroke="#10b058"/>
<circle cx="340.3" cy="124.2" r="3.7" stroke="#1010ff" stroke-width="1.1"/>
<path d="M336.6 122.0L343.0 128.4M336.6 128.4L343.0 122.0" stroke="#ff1010"/>
<path d="M335.1 125.1L341.5 131.5M335.1 131.5L341.5 125.1" stroke="#8a50b0"/>
<circle cx="320.5" cy="126.8" r="3.7" stroke="#1010ff" stroke-width="1.1"/>
<path d="M326.0 124.1L332.4 130.5M326.0 130.5L332.4 124.1" stroke="#8a50b0"/>
<path d="M329.0 124.1L335.4 130.5M329.0 130.5L335.4 124.1" stroke="#ff1010"/>
<path d="M327.5 129.7L333.9 136.1M327.5 136.1L333.9 129.7" stroke="#10b058"/>
<path d="M344.3 130.7L350.7 137.1M344.3 137.1L350.7 130.7" stroke="#1010ff"/>
<circle cx="360.2" cy="123.2" r="3.7" stroke="#1010ff" stroke-width="1.1"/>
<circle cx="362.7" cy="124.7" r="2.9" stroke="#ff1010" stroke-width="1.1"/>
<circle cx="367.3" cy="124.7" r="2.9" stroke="#ff1010" stroke-width="1.1"/>
<path d="M360.5 118.5L366.9 124.9M360.5 124.9L366.9 118.5" stroke="#10b058"/>
<path d="M372.2 120.0L378.6 126.4M372.2 126.4L378.6 120.0" stroke="#8a50b0"/>
<path d="M355.5 126.1L361.9 132.5M355.5 132.5L361.9 126.1" stroke="#ff1010"/>
<circle cx="373.4" cy="130.3" r="2.9" stroke="#10b058" stroke-width="1.1"/>
<path d="M358.5 131.2L364.9 137.6M358.5 137.6L364.9 131.2" stroke="#1010ff"/>
<circle cx="356.1" cy="140.0" r="2.9" stroke="#8a50b0" stroke-width="1.1"/>
<circle cx="357.6" cy="139.0" r="3.7" stroke="#1010ff" stroke-width="1.1"/>
<path d="M366.1 134.2L372.5 140.6M366.1 140.6L372.5 134.2" stroke="#10b058"/>
<circle cx="371.4" cy="141.5" r="3.7" stroke="#1010ff" stroke-width="1.1"/>
<path d="M364.6 138.3L371.0 144.7M364.6 144.7L371.0 138.3" stroke="#1010ff"/>
<circle cx="369.8" cy="142.5" r="2.9" stroke="#ff1010" stroke-width="1.1"/>
<circle cx="363.7" cy="145.1" r="2.9" stroke="#8a50b0" stroke-width="1.1"/>
<path d="M373.8 135.2L380.2 141.6M373.8 141.6L380.2 135.2" stroke="#8a50b0"/>
<circle cx="378.0" cy="144.6" r="3.7" stroke="#1010ff" stroke-width="1.1"/>
<path d="M372.2 143.9L378.6 150.3M372.2 150.3L378.6 143.9" stroke="#8a50b0"/>
<path d="M366.6 145.9L373.0 152.3M366.6 152.3L373.0 145.9" stroke="#1010ff"/>
<path d="M340.7 132.7L347.1 139.1M340.7 139.1L347.1 132.7" stroke="#ff1010"/>
<path d="M339.2 134.7L345.6 141.1M339.2 141.1L345.6 134.7" stroke="#1010ff"/>
<path d="M341.7 138.3L348.1 144.7M341.7 144.7L348.1 138.3" stroke="#ff1010"/>
<path d="M337.1 138.3L343.5 144.7M337.1 144.7L343.5 138.3" stroke="#10b058"/>
<path d="M340.2 140.3L346.6 146.7M340.2 146.7L346.6 140.3" stroke="#8a50b0"/>
<circle cx="322.0" cy="138.4" r="2.9" stroke="#ff1010" stroke-width="1.1"/>
<path d="M326.5 142.9L332.9 149.3M326.5 149.3L332.9 142.9" stroke="#8a50b0"/>
<path d="M329.0 139.3L335.4 145.7M329.0 145.7L335.4 139.3" stroke="#ff1010"/>
<path d="M333.1 142.4L339.5 148.8M333.1 148.8L339.5 142.4" stroke="#10b058"/>
<circle cx="338.8" cy="148.6" r="3.7" stroke="#1010ff" stroke-width="1.1"/>
<path d="M345.3 146.4L351.7 152.8M345.3 152.8L351.7 146.4" stroke="#1010ff"/>
<path d="M351.4 146.9L357.8 153.3M351.4 153.3L357.8 146.9" stroke="#10b058"/>
<circle cx="383.1" cy="120.1" r="2.9" stroke="#ff1010" stroke-width="1.1"/>
<circle cx="385.2" cy="126.2" r="3.7" stroke="#1010ff" stroke-width="1.1"/>
<path d="M385.0 127.1L391.4 133.5M385.0 133.5L391.4 127.1" stroke="#8a50b0"/>
<path d="M385.0 132.7L391.4 139.1M385.0 139.1L391.4 132.7" stroke="#8a50b0"/>
<path d="M391.6 126.6L398.0 133.0M391.6 133.0L398.0 126.6" stroke="#1010ff"/>
<path d="M390.6 130.7L397.0 137.1M390.6 137.1L397.0 130.7" stroke="#10b058"/>
<circle cx="396.3" cy="135.9" r="2.9" stroke="#ff1010" stroke-width="1.1"/>
<circle cx="394.8" cy="139.0" r="3.7" stroke="#1010ff" stroke-width="1.1"/>
<path d="M405.4 128.6L411.8 135.0M405.4 135.0L411.8 128.6" stroke="#ff1010"/>
<path d="M404.8 132.2L411.2 138.6M404.8 138.6L411.2 132.2" stroke="#1010ff"/>
<path d="M421.6 134.2L428.0 140.6M421.6 140.6L428.0 134.2" stroke="#1010ff"/>
<circle cx="437.6" cy="131.9" r="2.9" stroke="#10b058" stroke-width="1.1"/>
<circle cx="443.2" cy="134.4" r="3.7" stroke="#1010ff" stroke-width="1.1"/>
<circle cx="404.0" cy="142.5" r="3.7" stroke="#1010ff" stroke-width="1.1"/>
<path d="M408.4 139.3L414.8 145.7M408.4 145.7L414.8 139.3" stroke="#10b058"/>
<path d="M398.7 142.4L405.1 148.8M398.7 148.8L405.1 142.4" stroke="#8a50b0"/>
<path d="M375.3 133.7L381.7 140.1M375.3 140.1L381.7 133.7" stroke="#8a50b0"/>
<circle cx="379.6" cy="149.1" r="2.9" stroke="#ff1010" stroke-width="1.1"/>
<path d="M413.5 146.4L419.9 152.8M413.5 152.8L419.9 146.4" stroke="#1010ff"/>
<path d="M401.3 148.5L407.7 154.9M401.3 154.9L407.7 148.5" stroke="#1010ff"/>
<circle cx="448.3" cy="146.4" r="3.7" stroke="#1010ff" stroke-width="1.1"/>
<circle cx="464.6" cy="145.7" r="2.9" stroke="#ff1010" stroke-width="1.1"/>
<path d="M473.8 141.5L480.2 147.9M473.8 147.9L480.2 141.5" stroke="#ff1010"/>
<path d="M487.2 135.5L493.6 141.9M487.2 141.9L493.6 135.5" stroke="#ff1010"/>
<path d="M482.4 151.1L488.8 157.5M482.4 157.5L488.8 151.1" stroke="#8a50b0"/>
<circle cx="485.6" cy="154.3" r="2.9" stroke="#8a50b0" stroke-width="1.1"/>
<path d="M499.0 149.4L505.4 155.8M499.0 155.8L505.4 149.4" stroke="#ff1010"/>
<path d="M486.3 161.3L492.7 167.7M486.3 167.7L492.7 161.3" stroke="#8a50b0"/>
<path d="M456.0 165.5L462.4 171.9M456.0 171.9L462.4 165.5" stroke="#ff1010"/>
<path d="M490.5 172.3L496.9 178.7M490.5 178.7L496.9 172.3" stroke="#1010ff"/>
<path d="M471.8 177.7L478.2 184.1M471.8 184.1L478.2 177.7" stroke="#10b058"/>
<path d="M553.3 170.1L559.7 176.5M553.3 176.5L559.7 170.1" stroke="#1010ff"/>
<path d="M562.6 174.3L569.0 180.7M562.6 180.7L569.0 174.3" stroke="#ff1010"/>
<path d="M606.1 144.3L612.5 150.7M606.1 150.7L612.5 144.3" stroke="#8a50b0"/>
<circle cx="637.8" cy="187.8" r="2.9" stroke="#8a50b0" stroke-width="1.1"/>
<path d="M460.3 190.0L466.7 196.4M460.3 196.4L466.7 190.0" stroke="#10b058"/>
<path d="M495.6 187.0L502.0 193.4M495.6 193.4L502.0 187.0" stroke="#10b058"/>
<circle cx="505.9" cy="196.6" r="3.7" stroke="#1010ff" stroke-width="1.1"/>
<circle cx="519.2" cy="190.5" r="2.9" stroke="#10b058" stroke-width="1.1"/>
<path d="M530.8 188.3L537.2 194.7M530.8 194.7L537.2 188.3" stroke="#ff1010"/>
<circle cx="574.2" cy="201.4" r="3.7" stroke="#1010ff" stroke-width="1.1"/>
<circle cx="500.5" cy="217.0" r="2.9" stroke="#10b058" stroke-width="1.1"/>
<circle cx="557.7" cy="231.8" r="2.9" stroke="#10b058" stroke-width="1.1"/>
<path d="M589.6 204.4L596.0 210.8M589.6 210.8L596.0 204.4" stroke="#8a50b0"/>
<path d="M605.3 229.0L611.7 235.4M605.3 235.4L611.7 229.0" stroke="#ff1010"/>
<path d="M281.1 146.8L287.5 153.2M281.1 153.2L287.5 146.8" stroke="#8a50b0"/>
<path d="M289.3 147.3L295.7 153.7M289.3 153.7L295.7 147.3" stroke="#1010ff"/>
<circle cx="294.5" cy="149.5" r="3.7" stroke="#1010ff" stroke-width="1.1"/>
<path d="M293.3 149.9L299.7 156.3M293.3 156.3L299.7 149.9" stroke="#1010ff"/>
<circle cx="303.7" cy="150.5" r="2.9" stroke="#8a50b0" stroke-width="1.1"/>
<path d="M305.5 147.3L311.9 153.7M305.5 153.7L311.9 147.3" stroke="#8a50b0"/>
<path d="M309.6 146.8L316.0 153.2M309.6 153.2L316.0 146.8" stroke="#1010ff"/>
<circle cx="316.4" cy="155.1" r="2.9" stroke="#ff1010" stroke-width="1.1"/>
<circle cx="321.5" cy="150.0" r="2.9" stroke="#10b058" stroke-width="1.1"/>
<path d="M283.7 158.0L290.1 164.4M283.7 164.4L290.1 158.0" stroke="#1010ff"/>
<path d="M291.3 157.5L297.7 163.9M291.3 163.9L297.7 157.5" stroke="#ff1010"/>
<circle cx="293.5" cy="162.2" r="2.9" stroke="#ff1010" stroke-width="1.1"/>
<circle cx="305.2" cy="161.2" r="2.9" stroke="#8a50b0" stroke-width="1.1"/>
<path d="M308.1 159.6L314.5 166.0M308.1 166.0L314.5 159.6" stroke="#1010ff"/>
<path d="M315.7 159.6L322.1 166.0M315.7 166.0L322.1 159.6" stroke="#ff1010"/>
<path d="M319.8 159.0L326.2 165.4M319.8 165.4L326.2 159.0" stroke="#8a50b0"/>
<circle cx="318.9" cy="167.8" r="2.9" stroke="#8a50b0" stroke-width="1.1"/>
<circle cx="274.2" cy="166.8" r="2.9" stroke="#ff1010" stroke-width="1.1"/>
<path d="M271.0 165.1L277.4 171.5M271.0 171.5L277.4 165.1" stroke="#1010ff"/>
<path d="M276.0 164.1L282.4 170.5M276.0 170.5L282.4 164.1" stroke="#ff1010"/>
<path d="M275.0 170.7L281.4 177.1M275.0 177.1L281.4 170.7" stroke="#10b058"/>
<path d="M285.2 173.3L291.6 179.7M285.2 179.7L291.6 173.3" stroke="#10b058"/>
<circle cx="295.5" cy="178.5" r="2.9" stroke="#10b058" stroke-width="1.1"/>
<path d="M301.5 172.3L307.9 178.7M301.5 178.7L307.9 172.3" stroke="#10b058"/>
<path d="M309.6 170.7L316.0 177.1M309.6 177.1L316.0 170.7" stroke="#10b058"/>
<circle cx="315.4" cy="177.5" r="2.9" stroke="#8a50b0" stroke-width="1.1"/>
<path d="M316.7 172.3L323.1 178.7M316.7 178.7L323.1 172.3" stroke="#10b058"/>
<path d="M299.4 182.4L305.8 188.8M299.4 188.8L305.8 182.4" stroke="#8a50b0"/>
<path d="M307.6 181.4L314.0 187.8M307.6 187.8L314.0 181.4" stroke="#1010ff"/>
<path d="M313.7 182.4L320.1 188.8M313.7 188.8L320.1 182.4" stroke="#8a50b0"/>
<path d="M331.0 150.4L337.4 156.8M331.0 156.8L337.4 150.4" stroke="#10b058"/>
<path d="M332.1 147.9L338.5 154.3M332.1 154.3L338.5 147.9" stroke="#10b058"/>
<circle cx="340.3" cy="151.6" r="3.7" stroke="#1010ff" stroke-width="1.1"/>
<circle cx="330.2" cy="158.2" r="2.9" stroke="#10b058" stroke-width="1.1"/>
<path d="M333.6 154.0L340.0 160.4M333.6 160.4L340.0 154.0" stroke="#1010ff"/>
<circle cx="348.5" cy="152.6" r="2.9" stroke="#ff1010" stroke-width="1.1"/>
<path d="M346.3 147.3L352.7 153.7M346.3 153.7L352.7 147.3" stroke="#1010ff"/>
<path d="M351.9 148.9L358.3 155.3M351.9 155.3L358.3 148.9" stroke="#10b058"/>
<path d="M357.5 153.4L363.9 159.8M357.5 159.8L363.9 153.4" stroke="#10b058"/>
<path d="M338.7 157.5L345.1 163.9M338.7 163.9L345.1 157.5" stroke="#ff1010"/>
<path d="M341.2 158.0L347.6 164.4M341.2 164.4L347.6 158.0" stroke="#8a50b0"/>
<circle cx="351.5" cy="159.7" r="2.9" stroke="#ff1010" stroke-width="1.1"/>
<path d="M345.3 158.5L351.7 164.9M345.3 164.9L351.7 158.5" stroke="#8a50b0"/>
<circle cx="360.2" cy="161.2" r="2.9" stroke="#10b058" stroke-width="1.1"/>
<path d="M356.5 162.1L362.9 168.5M356.5 168.5L362.9 162.1" stroke="#10b058"/>
<circle cx="362.7" cy="166.8" r="2.9" stroke="#10b058" stroke-width="1.1"/>
<path d="M339.2 163.6L345.6 170.0M339.2 170.0L345.6 163.6" stroke="#8a50b0"/>
<circle cx="324.1" cy="168.3" r="2.9" stroke="#10b058" stroke-width="1.1"/>
<circle cx="331.2" cy="167.8" r="3.7" stroke="#1010ff" stroke-width="1.1"/>
<circle cx="335.3" cy="170.9" r="3.7" stroke="#1010ff" stroke-width="1.1"/>
<circle cx="349.5" cy="168.3" r="2.9" stroke="#ff1010" stroke-width="1.1"/>
<circle cx="348.5" cy="168.9" r="2.9" stroke="#10b058" stroke-width="1.1"/>
<circle cx="350.5" cy="170.9" r="3.7" stroke="#1010ff" stroke-width="1.1"/>
<path d="M352.9 168.7L359.3 175.1M352.9 175.1L359.3 168.7" stroke="#1010ff"/>
<path d="M357.5 171.8L363.9 178.2M357.5 178.2L363.9 171.8" stroke="#8a50b0"/>
<circle cx="354.6" cy="178.0" r="3.7" stroke="#1010ff" stroke-width="1.1"/>
<path d="M344.3 175.8L350.7 182.2M344.3 182.2L350.7 175.8" stroke="#8a50b0"/>
<circle cx="329.2" cy="177.0" r="2.9" stroke="#10b058" stroke-width="1.1"/>
<path d="M319.9 173.3L326.3 179.7M319.9 179.7L326.3 173.3" stroke="#10b058"/>
<path d="M322.9 176.3L329.3 182.7M322.9 182.7L329.3 176.3" stroke="#ff1010"/>
<circle cx="375.4" cy="171.4" r="2.9" stroke="#8a50b0" stroke-width="1.1"/>
<circle cx="377.0" cy="166.3" r="2.9" stroke="#8a50b0" stroke-width="1.1"/>
<circle cx="378.5" cy="163.8" r="2.9" stroke="#ff1010" stroke-width="1.1"/>
<path d="M373.8 150.4L380.2 156.8M373.8 156.8L380.2 150.4" stroke="#ff1010"/>
<path d="M366.6 146.8L373.0 153.2M366.6 153.2L373.0 146.8" stroke="#1010ff"/>
<path d="M373.8 177.4L380.2 183.8M373.8 183.8L380.2 177.4" stroke="#1010ff"/>
<circle cx="374.4" cy="184.6" r="2.9" stroke="#ff1010" stroke-width="1.1"/>
<path d="M332.1 182.9L338.5 189.3M332.1 189.3L338.5 182.9" stroke="#8a50b0"/>
<path d="M339.7 182.9L346.1 189.3M339.7 189.3L346.1 182.9" stroke="#10b058"/>
<circle cx="378.6" cy="150.0" r="2.9" stroke="#ff1010" stroke-width="1.1"/>
<path d="M376.9 152.9L383.3 159.3M376.9 159.3L383.3 152.9" stroke="#8a50b0"/>
<path d="M413.0 147.9L419.4 154.3M413.0 154.3L419.4 147.9" stroke="#1010ff"/>
<path d="M402.8 150.9L409.2 157.3M402.8 157.3L409.2 150.9" stroke="#1010ff"/>
<circle cx="399.9" cy="158.2" r="2.9" stroke="#ff1010" stroke-width="1.1"/>
<path d="M402.3 158.5L408.7 164.9M402.3 164.9L408.7 158.5" stroke="#10b058"/>
<path d="M413.0 157.5L419.4 163.9M413.0 163.9L419.4 157.5" stroke="#10b058"/>
<circle cx="411.6" cy="167.3" r="2.9" stroke="#10b058" stroke-width="1.1"/>
<circle cx="389.2" cy="165.3" r="3.7" stroke="#1010ff" stroke-width="1.1"/>
<circle cx="385.2" cy="168.3" r="2.9" stroke="#ff1010" stroke-width="1.1"/>
<circle cx="383.6" cy="170.9" r="2.9" stroke="#10b058" stroke-width="1.1"/>
<path d="M388.1 169.2L394.5 175.6M388.1 175.6L394.5 169.2" stroke="#1010ff"/>
<path d="M400.3 169.2L406.7 175.6M400.3 175.6L406.7 169.2" stroke="#10b058"/>
<path d="M381.0 172.8L387.4 179.2M381.0 179.2L387.4 172.8" stroke="#10b058"/>
<circle cx="396.4" cy="177.5" r="2.9" stroke="#10b058" stroke-width="1.1"/>
<circle cx="394.8" cy="179.5" r="2.9" stroke="#10b058" stroke-width="1.1"/>
<path d="M389.6 177.4L396.0 183.8M389.6 183.8L396.0 177.4" stroke="#10b058"/>
<path d="M411.5 170.7L417.9 177.1M411.5 177.1L417.9 170.7" stroke="#1010ff"/>
<path d="M417.1 169.7L423.5 176.1M417.1 176.1L423.5 169.7" stroke="#1010ff"/>
<path d="M373.8 182.9L380.2 189.3M373.8 189.3L380.2 182.9" stroke="#ff1010"/>
<path d="M420.1 180.9L426.5 187.3M420.1 187.3L426.5 180.9" stroke="#ff1010"/>
<circle cx="442.5" cy="158.3" r="2.9" stroke="#10b058" stroke-width="1.1"/>
<path d="M447.7 171.2L454.1 177.6M447.7 177.6L454.1 171.2" stroke="#8a50b0"/>
<path d="M449.3 196.6L455.7 203.0M449.3 203.0L455.7 196.6" stroke="#8a50b0"/>
<circle cx="276.5" cy="193.8" r="2.9" stroke="#8a50b0" stroke-width="1.1"/>
<path d="M286.2 191.8L292.6 198.2M286.2 198.2L292.6 191.8" stroke="#8a50b0"/>
<path d="M356.3 188.7L362.7 195.1M356.3 195.1L362.7 188.7" stroke="#8a50b0"/>
<path d="M363.1 187.3L369.5 193.7M363.1 193.7L369.5 187.3" stroke="#1010ff"/>
<path d="M367.7 189.5L374.1 195.9M367.7 195.9L374.1 189.5" stroke="#10b058"/>
<path d="M375.0 182.7L381.4 189.1M375.0 189.1L381.4 182.7" stroke="#ff1010"/>
<circle cx="394.3" cy="180.8" r="2.9" stroke="#10b058" stroke-width="1.1"/>
<circle cx="403.7" cy="192.2" r="2.9" stroke="#ff1010" stroke-width="1.1"/>
<path d="M383.0 196.0L389.4 202.4M383.0 202.4L389.4 196.0" stroke="#8a50b0"/>
<circle cx="417.2" cy="200.7" r="2.9" stroke="#ff1010" stroke-width="1.1"/>
<path d="M425.4 204.8L431.8 211.2M425.4 211.2L431.8 204.8" stroke="#ff1010"/>
<path d="M367.4 210.2L373.8 216.6M367.4 216.6L373.8 210.2" stroke="#8a50b0"/>
<path d="M305.2 217.5L311.6 223.9M305.2 223.9L311.6 217.5" stroke="#8a50b0"/>
<path d="M321.9 213.3L328.3 219.7M321.9 219.7L328.3 213.3" stroke="#8a50b0"/>
<circle cx="346.9" cy="222.0" r="2.9" stroke="#10b058" stroke-width="1.1"/>
<path d="M334.3 243.7L340.7 250.1M334.3 250.1L340.7 243.7" stroke="#10b058"/>
<path d="M448.0 221.8L454.4 228.2M448.0 228.2L454.4 221.8" stroke="#ff1010"/>
<path d="M452.2 232.8L458.6 239.2M452.2 239.2L458.6 232.8" stroke="#10b058"/>
</g>
<text x="63.8" y="32.4" class="lb" textLength="102.4" lengthAdjust="spacingAndGlyphs">ABD: male 2.1,</text>
<text x="63.8" y="53.3" class="lb" textLength="72.7" lengthAdjust="spacingAndGlyphs">female 2.6</text>
<text x="226.4" y="29.8" class="lb" textLength="180.1" lengthAdjust="spacingAndGlyphs">ABD: male 2.5, female 2.6</text>
<text x="61.5" y="133.7" class="lb" textLength="100.8" lengthAdjust="spacingAndGlyphs">ABD: male 3.0,</text>
<text x="61.5" y="155.3" class="lb" textLength="72" lengthAdjust="spacingAndGlyphs">female 3.6</text>
<text x="467.1" y="133.4" class="lb" textLength="179.5" lengthAdjust="spacingAndGlyphs">ABD: male 4.8, female 4.6</text>
<text x="222.5" y="260.6" class="lb" textLength="162.5" lengthAdjust="spacingAndGlyphs">ABD: male -, female 5.3</text>
<text x="466.0" y="258.2" class="lb" textLength="179.0" lengthAdjust="spacingAndGlyphs">ABD: male 8.8, female 5.9</text>
<path d="M515.3 29.2L522 35.9M515.3 35.9L522 29.2" stroke="#000" stroke-width="1.7"/>
<circle cx="520.4" cy="51.1" r="4.2" stroke="#000" stroke-width="1.5" fill="none"/>
<text x="539.6" y="36.7" class="lg">male</text>
<text x="539.9" y="55.1" class="lg">female</text>
</svg>
</body></html>
